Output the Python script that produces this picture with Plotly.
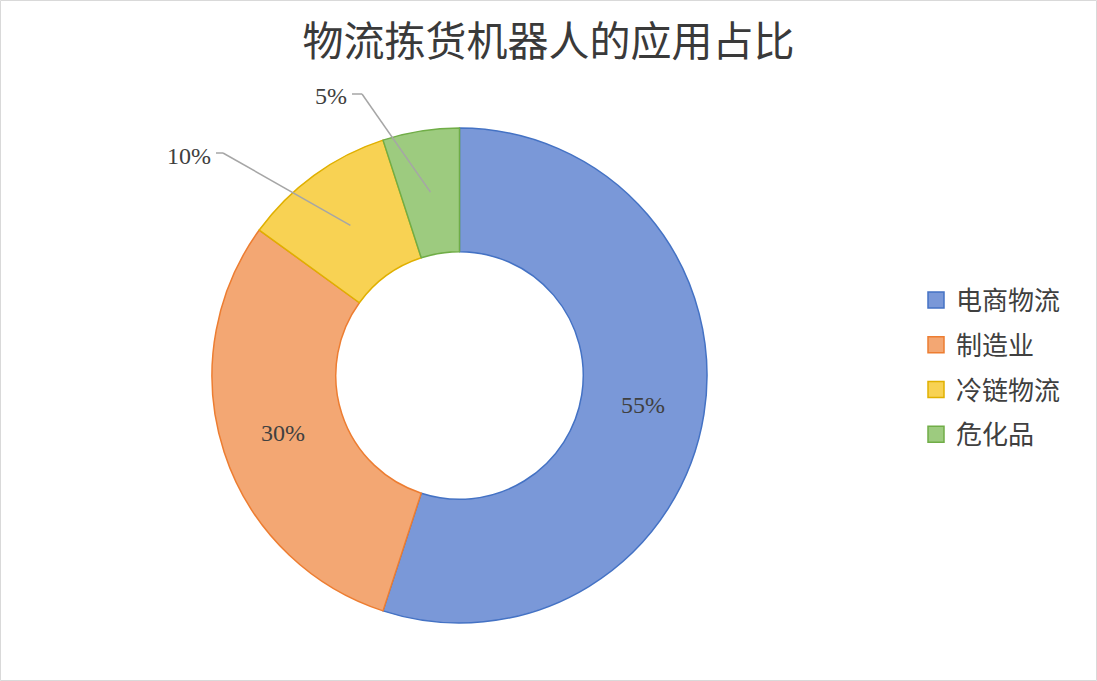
import math
import plotly.graph_objects as go

# Application share of logistics picking robots
categories = ["电商物流", "制造业", "冷链物流", "危化品"]
shares = [55, 30, 10, 5]
pct_labels = ["55%", "30%", "10%", "5%"]

fill_colors = ["#7A98D8", "#F3A773", "#F8D253", "#9DCB7F"]
edge_colors = ["#4472C4", "#ED7D31", "#E0B000", "#70AD47"]

W, H = 1097, 681
CX, CY, R_OUT = 459.5, 375.5, 247.5
HOLE = 0.5

fig = go.Figure(
    go.Pie(
        labels=categories,
        values=shares,
        sort=False,
        direction="clockwise",
        rotation=0,
        hole=HOLE,
        textinfo="none",
        hoverinfo="label+percent",
        showlegend=False,
        marker=dict(colors=fill_colors, line=dict(color=edge_colors, width=1.5)),
        domain=dict(x=[(CX - R_OUT) / W, (CX + R_OUT) / W],
                    y=[1 - (CY + R_OUT) / H, 1 - (CY - R_OUT) / H]),
    )
)

# legend entries, one group per category so the rows can be spaced apart
for name, fc, ec in zip(categories, fill_colors, edge_colors):
    fig.add_trace(go.Scatter(
        x=[None], y=[None], mode="markers", name=name, legendgroup=name,
        marker=dict(symbol="square", size=16, color=fc, line=dict(color=ec, width=1.5)),
        hoverinfo="skip",
    ))


def ring_point(angle_deg, radius):
    """Pixel position on the ring for an angle measured clockwise from 12 o'clock."""
    a = math.radians(angle_deg)
    return CX + radius * math.sin(a), CY - radius * math.cos(a)


def px(x, y):
    return x / W, 1 - y / H


total = sum(shares)
mid_r = R_OUT * (1 + HOLE) / 2
label_font = dict(family="Liberation Serif, DejaVu Serif, serif", size=24, color="#404040")

annotations = []
shapes = []
start = 0.0
# elbow point and text anchor for the two small slices whose labels sit outside
outside = {2: ((223, 153), (213, 156)), 3: ((362, 94), (349, 96))}
for i, v in enumerate(shares):
    span = 360.0 * v / total
    mid = start + span / 2
    start += span
    if i in outside:
        (ex, ey), (tx, ty) = outside[i]
        sx, sy = ring_point(mid, mid_r)
        for (x0, y0), (x1, y1) in [((sx, sy), (ex, ey)), ((ex, ey), (tx + 3, ey))]:
            a0, b0 = px(x0, y0)
            a1, b1 = px(x1, y1)
            shapes.append(dict(type="line", xref="paper", yref="paper",
                               x0=a0, y0=b0, x1=a1, y1=b1,
                               line=dict(color="#A6A6A6", width=1.5)))
        ax, ay = px(tx, ty)
        annotations.append(dict(text=pct_labels[i], x=ax, y=ay, xref="paper", yref="paper",
                                xanchor="right", yanchor="middle", showarrow=False,
                                font=label_font))
    else:
        lx, ly = ring_point(mid, mid_r)
        ax, ay = px(lx, ly)
        annotations.append(dict(text=pct_labels[i], x=ax, y=ay, xref="paper", yref="paper",
                                xanchor="center", yanchor="middle", showarrow=False,
                                font=label_font))

# thin outer frame
shapes.append(dict(type="rect", xref="paper", yref="paper",
                   x0=0.5 / W, y0=0.5 / H, x1=1 - 0.5 / W, y1=1 - 0.5 / H,
                   line=dict(color="#D9D9D9", width=1)))

fig.update_layout(
    width=W,
    height=H,
    margin=dict(l=0, r=0, t=0, b=0),
    paper_bgcolor="white",
    plot_bgcolor="white",
    xaxis=dict(visible=False),
    yaxis=dict(visible=False),
    title=dict(text="物流拣货机器人的应用占比", x=0.5, xanchor="center",
               y=1 - 42 / H, yanchor="middle",
               font=dict(family="Noto Sans CJK SC", size=41, color="#3A3A3A")),
    legend=dict(x=916 / W, xanchor="left", y=1 - 367.5 / H, yanchor="middle",
                font=dict(family="Noto Sans CJK SC", size=26, color="#404040"),
                tracegroupgap=8, itemclick=False, itemdoubleclick=False,
                bgcolor="rgba(0,0,0,0)"),
    annotations=annotations,
    shapes=shapes,
    showlegend=True,
)

fig.write_html("out.html")
